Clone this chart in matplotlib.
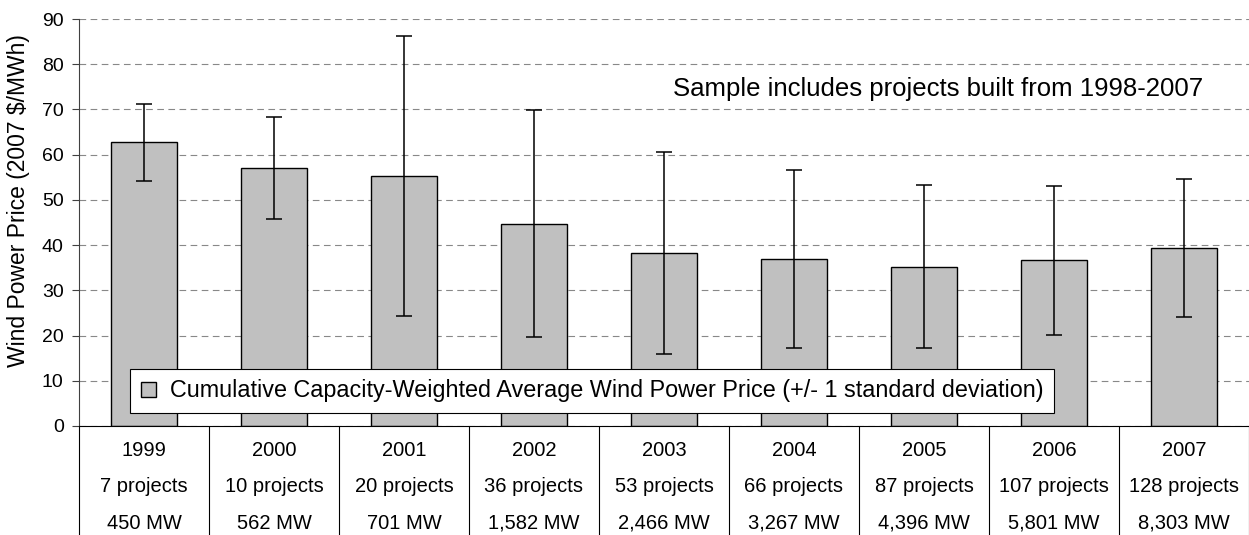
import matplotlib.pyplot as plt
import numpy as np

plt.rcParams['font.family'] = ['Liberation Sans', 'DejaVu Sans']

years = ['1999', '2000', '2001', '2002', '2003', '2004', '2005', '2006', '2007']
projects = ['7 projects', '10 projects', '20 projects', '36 projects', '53 projects',
            '66 projects', '87 projects', '107 projects', '128 projects']
capacity = ['450 MW', '562 MW', '701 MW', '1,582 MW', '2,466 MW',
            '3,267 MW', '4,396 MW', '5,801 MW', '8,303 MW']
price = [62.7, 57.0, 55.3, 44.7, 38.3, 37.0, 35.2, 36.6, 39.4]
std_dev = [8.5, 11.3, 31.0, 25.1, 22.3, 19.7, 18.0, 16.4, 15.3]

fig = plt.figure(figsize=(12.49, 5.35), dpi=100)
ax = fig.add_axes([79 / 1249, 109 / 535, 1170 / 1249, 407 / 535])

x = np.arange(len(years))
ax.bar(x, price, width=0.51, color='#c0c0c0', edgecolor='black', linewidth=1.0,
       label='Cumulative Capacity-Weighted Average Wind Power Price (+/- 1 standard deviation)',
       zorder=2)
ax.errorbar(x, price, yerr=std_dev, fmt='none', ecolor='black', elinewidth=1.1,
            capsize=6, capthick=1.1, zorder=3)

ax.set_xlim(-0.5, len(years) - 0.5)
ax.set_ylim(0, 90)
ax.set_yticks(range(0, 91, 10))
ax.tick_params(axis='y', labelsize=14, length=5, width=0.8, color='#404040', pad=6)
ax.yaxis.grid(True, linestyle=(0, (6, 4)), color='#888888', linewidth=0.8, zorder=0)
ax.set_axisbelow(True)
ax.set_ylabel('Wind Power Price (2007 $/MWh)', fontsize=16.5)
ax.yaxis.set_label_coords(-0.042, 0.553)

for s in ['top', 'right']:
    ax.spines[s].set_visible(False)
ax.spines['left'].set_color('#404040')
ax.spines['bottom'].set_color('black')

# table below the axis: separators as long ticks, labels as annotations
ax.set_xticks(np.arange(-0.5, len(years), 1.0))
ax.set_xticklabels([])
ax.tick_params(axis='x', direction='out', length=80, width=0.8, color='black')

for i in range(len(years)):
    for row, txt in enumerate([years[i], projects[i], capacity[i]]):
        ax.annotate(txt, xy=(i, 0), xycoords=('data', 'axes fraction'),
                    xytext=(0, -17.3 - 26.3 * row), textcoords='offset points',
                    ha='center', va='center', fontsize=14.5, annotation_clip=False)

ax.text(0.9607, 74.5, 'Sample includes projects built from 1998-2007',
        transform=ax.get_yaxis_transform(), ha='right', va='center', fontsize=18.5)

leg = ax.legend(loc='lower left', bbox_to_anchor=(51 / 1170, 13 / 407), fontsize=16.8,
                frameon=True, fancybox=False, edgecolor='black', framealpha=1,
                handlelength=0.65, handleheight=0.65, borderpad=0.45, handletextpad=0.6,
                borderaxespad=0)
leg.get_frame().set_linewidth(0.8)

fig.savefig('out.png', dpi=100)
